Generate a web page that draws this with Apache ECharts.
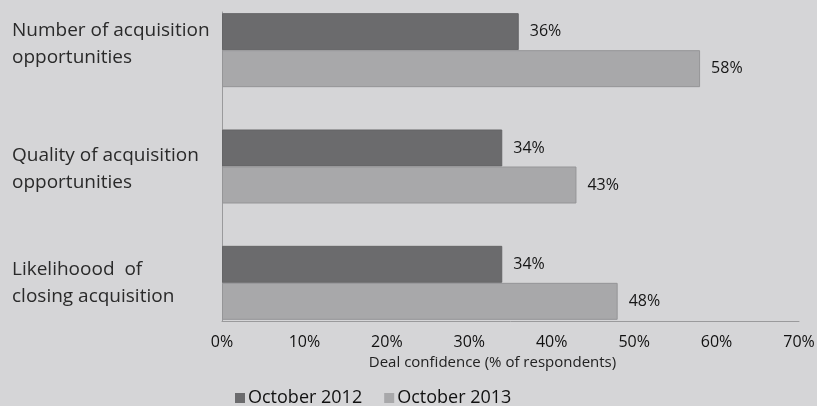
<!DOCTYPE html>
<html>
<head>
<meta charset="utf-8">
<script src="https://cdn.jsdelivr.net/npm/echarts@6/dist/echarts.min.js"></script>
<style>
  html, body { margin: 0; padding: 0; background: #d5d5d7; overflow: hidden; }
  /* canvas starts 8px above the page so the first bar group can sit near the top edge */
  #chart { width: 817px; height: 414px; margin-top: -8px; }
</style>
</head>
<body>
<div id="chart"></div>
<script>
// Deal confidence survey: share of respondents, two survey waves
const categories = [
  'Number of acquisition\nopportunities',
  'Quality of acquisition\nopportunities',
  'Likelihoood  of\nclosing acquisition'
];
const seriesNames = ['October 2012', 'October 2013'];
const oct2012 = [36, 34, 34];
const oct2013 = [58, 43, 48];
const xMin = 0;
const xMax = 70;
const xStep = 10;

const FONT = '"Open Sans", "Noto Sans", sans-serif';
const DARK = '#6b6b6d';
const LIGHT = '#a8a8aa';
const OFFSET = 8; // canvas pixels hidden above the page

const chart = echarts.init(document.getElementById('chart'), null, { renderer: 'canvas' });

// two-line category captions; thin spacer lines nudge the first two vertically
function caption(value, index) {
  const lines = value.split('\n').map(l => '{t|' + l + '}');
  if (index === 0) lines.push('{lift| }');
  if (index === 1) lines.unshift('{drop| }');
  return lines.join('\n');
}

const valueLabel = {
  show: true,
  position: 'right',
  distance: 11,
  formatter: p => p.value + '%',
  fontFamily: FONT,
  fontSize: 16,
  color: '#161616'
};

chart.setOption({
  backgroundColor: '#d5d5d7',
  animation: false,
  textStyle: { fontFamily: FONT },
  legend: {
    data: seriesNames,
    left: 230,
    top: 384 + OFFSET,
    itemWidth: 10,
    itemHeight: 10,
    itemGap: 22,
    icon: 'rect',
    itemStyle: { borderWidth: 0 },
    textStyle: { fontFamily: FONT, fontSize: 18, color: '#111', fontWeight: 500, padding: [0, 0, 0, -2] }
  },
  grid: [
    // grid holding the bars
    { left: 222, right: 18, top: 0, bottom: 65, containLabel: false, outerBoundsMode: 'none' },
    // grid that draws the visible frame and value axis
    { left: 222, right: 18, top: 12 + OFFSET, bottom: 85, containLabel: false, outerBoundsMode: 'none' }
  ],
  xAxis: [
    {
      gridIndex: 0, type: 'value', min: xMin, max: xMax, interval: xStep,
      axisLine: { show: false }, axisTick: { show: false },
      axisLabel: { show: false }, splitLine: { show: false }
    },
    {
      gridIndex: 1, type: 'value', min: xMin, max: xMax, interval: xStep,
      axisLine: { show: true, lineStyle: { color: '#9a9a9c', width: 1 } },
      axisTick: { show: false },
      splitLine: { show: false },
      axisLabel: {
        margin: 13,
        fontFamily: FONT, fontSize: 16, color: '#111',
        formatter: v => v + '%'
      },
      name: 'Deal confidence (% of respondents)',
      nameLocation: 'middle',
      nameGap: 32,
      nameTextStyle: { fontFamily: FONT, fontSize: 15, color: '#222', padding: [0, 36, 0, 0] }
    }
  ],
  yAxis: [
    {
      gridIndex: 0, type: 'category', inverse: true, data: categories,
      axisLine: { show: false }, axisTick: { show: false },
      axisLabel: {
        margin: 210,
        align: 'left',
        formatter: caption,
        rich: {
          t: { fontFamily: FONT, fontSize: 19, lineHeight: 27, color: '#2a2a2a', align: 'left' },
          lift: { fontSize: 1, lineHeight: 12, height: 12 },
          drop: { fontSize: 1, lineHeight: 6, height: 6 }
        }
      }
    },
    {
      gridIndex: 1, type: 'category', data: categories, inverse: true,
      axisLine: { show: true, lineStyle: { color: '#9a9a9c', width: 1 } },
      axisTick: { show: false }, axisLabel: { show: false }
    }
  ],
  series: [
    {
      name: seriesNames[0], type: 'bar', xAxisIndex: 0, yAxisIndex: 0,
      data: oct2012, barWidth: 37, barGap: '0%',
      itemStyle: { color: DARK, borderColor: '#646466', borderWidth: 1 },
      label: valueLabel
    },
    {
      name: seriesNames[1], type: 'bar', xAxisIndex: 0, yAxisIndex: 0,
      data: oct2013, barWidth: 37, barGap: '0%',
      itemStyle: { color: LIGHT, borderColor: '#959597', borderWidth: 1 },
      label: valueLabel
    }
  ]
});
</script>
</body>
</html>
